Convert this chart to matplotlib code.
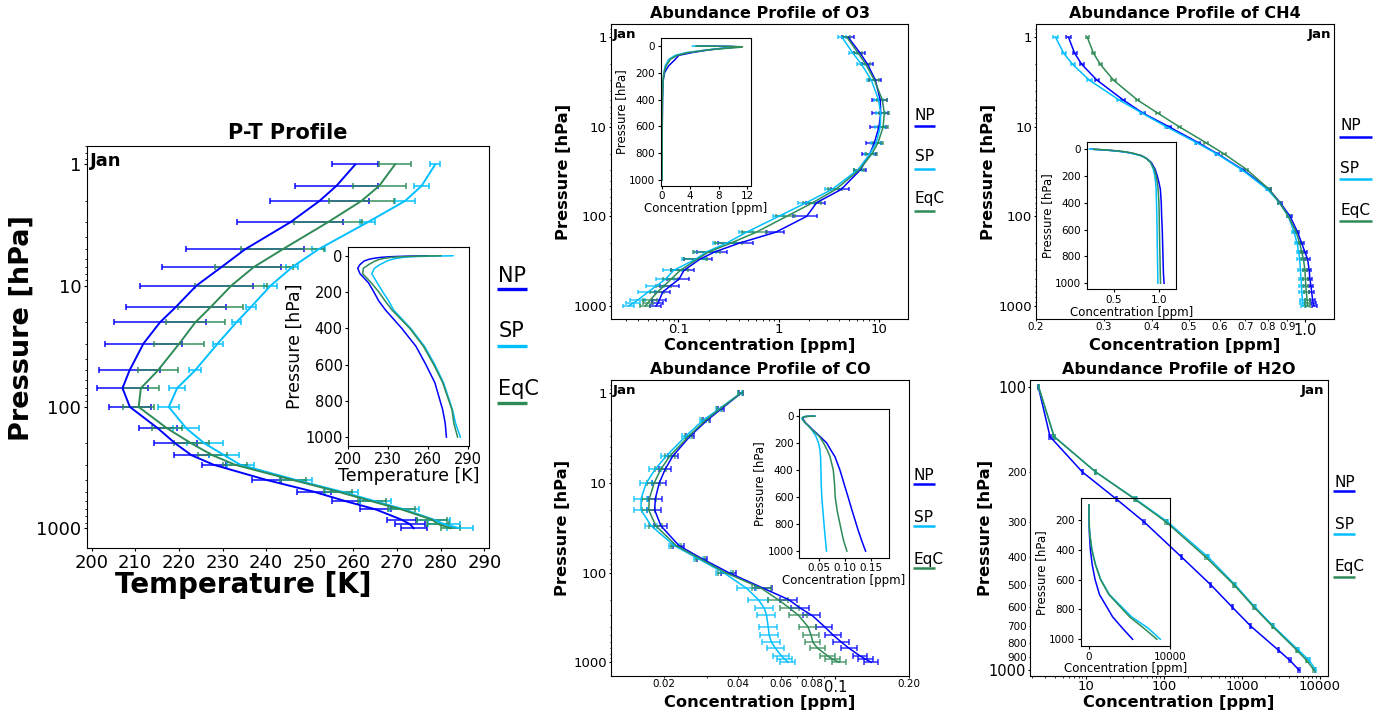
import numpy as np
import matplotlib
matplotlib.use('Agg')
import matplotlib.pyplot as plt
from matplotlib.lines import Line2D
from matplotlib.ticker import FixedLocator, FuncFormatter, NullFormatter, LogLocator

# ---------------- data ----------------
labels = ['NP', 'SP', 'EqC']
colors = ['blue', 'deepskyblue', 'seagreen']

levels = [1, 1.5, 2, 3, 5, 7, 10, 15, 20, 30, 50, 70, 100, 150, 200, 250, 300,
          400, 500, 600, 700, 850, 925, 1000]
h2o_levels = [100, 150, 200, 250, 300, 400, 500, 600, 700, 850, 925, 1000]

# Temperature [K]
t_np = [260.4, 256.1, 252.2, 245.5, 235.2, 229.8, 224.0, 219.3, 215.7, 211.9, 208.7, 207.1,
        208.8, 215.2, 219.2, 222.9, 228.0, 240.1, 250.9, 258.3, 265.1, 271.0, 272.9, 273.8]
t_np_err = [5.3, 9.4, 11.3, 12.2, 13.5, 13.6, 12.9, 11.5, 10.5, 8.8, 6.9, 5.9,
            4.8, 4.3, 4.9, 4.0, 2.7, 3.4, 3.9, 3.2, 3.6, 3.4, 3.4, 3.0]
t_sp = [278.7, 275.6, 271.8, 263.2, 252.0, 246.0, 241.0, 236.5, 233.2, 228.9, 223.7, 219.6,
        217.7, 221.7, 225.9, 230.4, 234.1, 246.8, 257.3, 265.0, 271.6, 278.4, 280.7, 284.3]
t_sp_err = [1.1, 1.8, 2.2, 1.8, 1.5, 1.4, 1.4, 1.1, 1.1, 1.1, 1.3, 1.8,
            2.4, 3.0, 4.1, 3.4, 3.1, 3.7, 3.8, 3.5, 3.4, 3.8, 3.6, 3.0]
t_eq = [269.5, 265.9, 261.8, 254.1, 243.8, 237.2, 232.0, 227.3, 223.8, 220.1, 215.2, 211.3,
        210.8, 217.3, 222.9, 227.7, 232.9, 246.1, 256.5, 264.2, 271.0, 278.0, 279.4, 282.2]
t_eq_err = [3.6, 6.1, 7.4, 7.8, 9.5, 8.9, 8.2, 7.4, 6.8, 5.7, 4.6, 4.2,
            3.5, 3.4, 4.0, 3.4, 2.7, 3.0, 3.2, 3.2, 3.0, 3.4, 2.5, 2.2]

# O3 [ppm]
o3_np = [4.95, 6.5, 7.7, 9.2, 10.3, 10.4, 10.0, 9.0, 8.1, 6.55, 4.2, 2.4,
         1.9, 0.94, 0.40, 0.23, 0.165, 0.114, 0.102, 0.083, 0.070, 0.065, 0.063, 0.060]
o3_np_err = [0.64, 0.82, 1.0, 1.2, 1.8, 1.9, 1.8, 1.5, 1.3, 0.92, 0.84, 0.53,
             0.5, 0.19, 0.15, 0.075, 0.05, 0.029, 0.025, 0.018, 0.012, 0.010, 0.008, 0.008]
o3_sp = [4.3, 5.5, 6.7, 8.4, 9.9, 10.4, 10.3, 9.4, 8.1, 6.2, 3.4, 1.9,
         1.0, 0.48, 0.30, 0.19, 0.15, 0.09, 0.075, 0.06, 0.05, 0.04, 0.036, 0.032]
o3_sp_err = [0.4, 0.5, 0.6, 0.8, 1.0, 1.1, 1.1, 1.0, 0.9, 0.6, 0.5, 0.35,
             0.12, 0.08, 0.08, 0.045, 0.04, 0.02, 0.015, 0.012, 0.01, 0.007, 0.006, 0.004]
o3_eq = [4.8, 6.2, 7.4, 9.0, 10.8, 11.3, 11.0, 9.8, 8.5, 6.4, 3.7, 2.2,
         1.2, 0.6, 0.33, 0.2, 0.155, 0.105, 0.085, 0.072, 0.062, 0.053, 0.05, 0.047]
o3_eq_err = [0.4, 0.6, 0.8, 1.0, 1.2, 1.3, 1.2, 1.1, 1.0, 0.7, 0.6, 0.45,
             0.25, 0.17, 0.1, 0.06, 0.04, 0.02, 0.015, 0.012, 0.01, 0.008, 0.006, 0.005]

# CH4 [ppm]
ch4_np = [0.243, 0.252, 0.263, 0.288, 0.337, 0.379, 0.444, 0.528, 0.593, 0.689, 0.806, 0.862,
          0.915, 0.957, 0.981, 1.000, 1.016, 1.026, 1.030, 1.037, 1.041, 1.047, 1.050, 1.057]
ch4_sp = [0.225, 0.236, 0.249, 0.275, 0.329, 0.377, 0.437, 0.523, 0.590, 0.685, 0.799, 0.858,
          0.906, 0.937, 0.954, 0.963, 0.969, 0.973, 0.977, 0.979, 0.981, 0.985, 0.987, 0.989]
ch4_eq = [0.272, 0.282, 0.294, 0.318, 0.367, 0.414, 0.472, 0.553, 0.616, 0.706, 0.808, 0.858,
          0.906, 0.949, 0.969, 0.981, 0.991, 1.000, 1.003, 1.005, 1.008, 1.013, 1.015, 1.018]
ch4_np_err = [0.003, 0.003, 0.003, 0.004, 0.004, 0.005, 0.005, 0.006, 0.006, 0.007, 0.008, 0.009,
              0.010, 0.011, 0.012, 0.013, 0.013, 0.014, 0.014, 0.015, 0.015, 0.016, 0.016, 0.016]
ch4_sp_err = [0.003, 0.003, 0.003, 0.004, 0.004, 0.005, 0.005, 0.006, 0.006, 0.007, 0.008, 0.009,
              0.010, 0.011, 0.012, 0.012, 0.013, 0.013, 0.013, 0.014, 0.014, 0.014, 0.015, 0.015]
ch4_eq_err = [0.003, 0.003, 0.003, 0.004, 0.004, 0.005, 0.005, 0.006, 0.006, 0.007, 0.008, 0.009,
              0.010, 0.011, 0.012, 0.012, 0.013, 0.013, 0.013, 0.014, 0.014, 0.015, 0.015, 0.015]

# CO [ppm]
co_np = [0.0411, 0.0341, 0.0299, 0.0255, 0.0217, 0.0202, 0.0191, 0.0184, 0.0183, 0.0194, 0.0230, 0.0286,
         0.0367, 0.0510, 0.0645, 0.0721, 0.0804, 0.0903, 0.0982, 0.1062, 0.1140, 0.1262, 0.1330, 0.1403]
co_np_err = [0.0008, 0.0009, 0.0010, 0.0010, 0.0010, 0.0011, 0.0012, 0.0012, 0.0012, 0.0012, 0.0012, 0.0013,
             0.0025, 0.0040, 0.0050, 0.0060, 0.0065, 0.0070, 0.0075, 0.0080, 0.0085, 0.0085, 0.0090, 0.0095]
co_sp = [0.0409, 0.0334, 0.0288, 0.0245, 0.0204, 0.0184, 0.0169, 0.0161, 0.0161, 0.0177, 0.0220, 0.0276,
         0.0350, 0.0435, 0.0485, 0.0513, 0.0524, 0.0532, 0.0537, 0.0549, 0.0570, 0.0603, 0.0622, 0.0641]
co_sp_err = [0.0008, 0.0008, 0.0009, 0.0009, 0.0009, 0.0010, 0.0010, 0.0010, 0.0010, 0.0010, 0.0011, 0.0012,
             0.0025, 0.0040, 0.0045, 0.0045, 0.0045, 0.0045, 0.0045, 0.0045, 0.0045, 0.0045, 0.0045, 0.0045]
co_eq = [0.0410, 0.0337, 0.0295, 0.0252, 0.0211, 0.0194, 0.0182, 0.0174, 0.0173, 0.0185, 0.0224, 0.0281,
         0.0356, 0.0500, 0.0584, 0.0652, 0.0708, 0.0773, 0.0797, 0.0810, 0.0848, 0.0931, 0.0976, 0.1038]
co_eq_err = [0.0008, 0.0008, 0.0009, 0.0009, 0.0010, 0.0010, 0.0011, 0.0011, 0.0011, 0.0011, 0.0011, 0.0012,
             0.0025, 0.0045, 0.0055, 0.0060, 0.0060, 0.0060, 0.0060, 0.0060, 0.0060, 0.0065, 0.0065, 0.0070]

# H2O [ppm]
h2o_np = [2.44, 3.45, 8.97, 24.8, 55.5, 169, 397, 751, 1294, 2918, 4121, 5380]
h2o_np_err = [0.05, 0.08, 0.2, 0.5, 1.2, 3, 8, 15, 25, 60, 80, 100]
h2o_sp = [2.46, 3.89, 13.3, 43.8, 111, 370, 813, 1468, 2520, 5270, 7290, 8810]
h2o_sp_err = [0.05, 0.08, 0.3, 0.8, 2.5, 7, 15, 30, 50, 110, 150, 180]
h2o_eq = [2.46, 3.89, 13.3, 42.6, 106, 345, 789, 1426, 2445, 5025, 6750, 8380]
h2o_eq_err = [0.05, 0.08, 0.3, 0.8, 2.5, 7, 15, 30, 50, 110, 150, 180]

# ---------------- figure ----------------
W, H = 1386, 715
fig = plt.figure(figsize=(W / 100, H / 100), dpi=100)


def rect(l, t, r, b):
    return [l / W, 1 - b / H, (r - l) / W, (b - t) / H]


def fx(x):
    return x / W


def fy(y):
    return 1 - y / H


def profiles(ax, series, levs, lw, elw, cap):
    for (vals, errs), col in zip(series, colors):
        ax.plot(vals, levs, color=col, lw=lw, zorder=3)
        ax.errorbar(vals, levs, xerr=errs, fmt='none', ecolor=col, elinewidth=elw,
                    capsize=cap, capthick=elw, alpha=0.75, zorder=2)


def inset_lines(ax, series, levs, lw=1.1):
    for vals, col in zip(series, colors):
        ax.plot(vals, levs, color=col, lw=lw)


def side_legend(x0, x1, ytexts, ylines, fs, lw):
    for lab, col, yt, yl in zip(labels, colors, ytexts, ylines):
        fig.text(fx(x0 + 1.5), fy(yt), lab, fontsize=fs, ha='left', va='baseline')
        fig.add_artist(Line2D([fx(x0), fx(x1)], [fy(yl), fy(yl)], color=col, lw=lw,
                              transform=fig.transFigure, solid_capstyle='butt'))


def gfmt(v, p):
    return '%g' % v


def only(vals, fmt):
    def f(v, p):
        for t in vals:
            if abs(v - t) < 1e-9 * max(1.0, abs(t)):
                return fmt % v
        return ''
    return FuncFormatter(f)


def log_y(ax, ylim, size):
    ax.set_yscale('log')
    ax.set_ylim(*ylim)
    ax.yaxis.set_major_locator(FixedLocator([1, 10, 100, 1000]))
    ax.yaxis.set_major_formatter(FuncFormatter(gfmt))
    ax.yaxis.set_minor_formatter(NullFormatter())
    ax.tick_params(axis='y', which='major', labelsize=size)


def main_ticks(ax, length=1.8, pad=1.0):
    ax.tick_params(which='major', length=length, pad=pad)
    ax.tick_params(which='minor', length=length * 0.6, pad=pad)


def place_labels(ax, xl, yl, xsize, ysize, xpos, ypos):
    ax.set_xlabel(xl, fontsize=xsize, fontweight='bold')
    ax.set_ylabel(yl, fontsize=ysize, fontweight='bold')
    ax.xaxis.set_label_coords(*xpos)
    ax.xaxis.label.set_va('center')
    ax.yaxis.set_label_coords(*ypos)
    ax.yaxis.label.set_va('center')


def inset_style(ax, tick, lab, ylim):
    ax.patch.set_alpha(0)
    ax.set_ylim(*ylim)
    ax.tick_params(labelsize=tick, length=2.5, pad=1.5)
    ax.set_xlabel('Concentration [ppm]', fontsize=lab, labelpad=0.5)
    ax.set_ylabel('Pressure [hPa]', fontsize=lab, labelpad=1)


YLIM = (1413, 0.708)
RT, RL, RK, RM = 11.5, 11.7, 9.5, 7.5  # title, label, major tick, minor tick sizes

# ---------------- P-T profile ----------------
ax = fig.add_axes(rect(86.7, 145.7, 489.3, 548))
profiles(ax, [(t_np, t_np_err), (t_sp, t_sp_err), (t_eq, t_eq_err)], levels, 1.4, 1.4, 2.3)
log_y(ax, (1456, 0.70), 13)
ax.set_xlim(198.9, 291.1)
ax.set_xticks(np.arange(200, 291, 10))
ax.tick_params(axis='x', labelsize=13)
main_ticks(ax, 2.4, 1.6)
ax.set_title('P-T Profile', fontsize=15, fontweight='bold', pad=5)
place_labels(ax, 'Temperature [K]', 'Pressure [hPa]', 20, 19.5, (0.388, -0.093), (-0.161, 0.548))
ax.text(0.008, 0.985, 'Jan', transform=ax.transAxes, fontsize=13, fontweight='bold',
        ha='left', va='top')
side_legend(496.7, 526.5, [282, 337, 395], [289, 346.3, 403.3], 15, 2.4)

ai = fig.add_axes(rect(348.3, 246.7, 469.3, 446))
inset_lines(ai, [t_np, t_sp, t_eq], levels)
ai.set_xlim(200, 291)
ai.set_xticks([200, 230, 260, 290])
inset_style(ai, 10.5, 12.5, (1049, -49))
ai.set_xlabel('Temperature [K]', fontsize=12.5, labelpad=0.5)

# ---------------- O3 ----------------
ax = fig.add_axes(rect(610.7, 24, 908.3, 319.3))
profiles(ax, [(o3_np, o3_np_err), (o3_sp, o3_sp_err), (o3_eq, o3_eq_err)], levels, 1.1, 1.2, 1.6)
ax.set_xscale('log')
ax.set_xlim(0.0212, 19.6)
ax.xaxis.set_major_locator(FixedLocator([0.1, 1, 10]))
ax.xaxis.set_major_formatter(FuncFormatter(gfmt))
ax.xaxis.set_minor_formatter(NullFormatter())
ax.tick_params(axis='x', which='major', labelsize=RK)
log_y(ax, YLIM, RK)
main_ticks(ax)
ax.set_title('Abundance Profile of O3', fontsize=RT, fontweight='bold', pad=4)
place_labels(ax, 'Concentration [ppm]', 'Pressure [hPa]', RL, RL, (0.5, -0.089), (-0.160, 0.5))
ax.text(0.008, 0.985, 'Jan', transform=ax.transAxes, fontsize=9.6, fontweight='bold',
        ha='left', va='top')
side_legend(913.5, 935, [120, 161, 203], [126, 169.3, 210.7], 11, 1.8)

ai = fig.add_axes(rect(660.7, 38.3, 750.7, 185.7))
inset_lines(ai, [o3_np, o3_sp, o3_eq], levels)
ai.set_xlim(-0.14, 12.47)
ai.set_xticks([0, 4, 8, 12])
inset_style(ai, 7.5, 8.5, (1042, -57))

# ---------------- CH4 ----------------
ax = fig.add_axes(rect(1036, 24, 1334, 319.3))
profiles(ax, [(ch4_np, ch4_np_err), (ch4_sp, ch4_sp_err), (ch4_eq, ch4_eq_err)], levels, 1.1, 1.2, 1.6)
ax.set_xscale('log')
ax.set_xlim(0.2, 1.19)
ax.xaxis.set_major_locator(FixedLocator([1.0]))
ax.xaxis.set_major_formatter(FuncFormatter(lambda v, p: '%.1f' % v))
ax.xaxis.set_minor_locator(LogLocator(base=10, subs=np.arange(2, 10)))
ax.xaxis.set_minor_formatter(only([0.2, 0.3, 0.4, 0.5, 0.6, 0.7, 0.8, 0.9], '%.1f'))
ax.tick_params(axis='x', which='major', labelsize=10.5)
ax.tick_params(axis='x', which='minor', labelsize=RM)
log_y(ax, YLIM, RK)
main_ticks(ax)
ax.set_title('Abundance Profile of CH4', fontsize=RT, fontweight='bold', pad=4)
place_labels(ax, 'Concentration [ppm]', 'Pressure [hPa]', RL, RL, (0.5, -0.089), (-0.161, 0.5))
ax.text(0.99, 0.985, 'Jan', transform=ax.transAxes, fontsize=9.6, fontweight='bold',
        ha='right', va='top')
side_legend(1338.5, 1372, [130, 173, 215], [136.7, 179.3, 220.7], 11, 1.8)

ai = fig.add_axes(rect(1086.7, 142, 1176, 289.3))
inset_lines(ai, [ch4_np, ch4_sp, ch4_eq], levels)
ai.set_xlim(0.196, 1.19)
ai.set_xticks([0.5, 1.0])
ai.xaxis.set_major_formatter(FuncFormatter(lambda v, p: '%.1f' % v))
inset_style(ai, 7.5, 8.5, (1045, -52))

# ---------------- CO ----------------
ax = fig.add_axes(rect(610.7, 380, 909, 675.7))
profiles(ax, [(co_np, co_np_err), (co_sp, co_sp_err), (co_eq, co_eq_err)], levels, 1.1, 1.2, 2.2)
ax.set_xscale('log')
ax.set_xlim(0.0121, 0.2)
ax.xaxis.set_major_locator(FixedLocator([0.1]))
ax.xaxis.set_major_formatter(FuncFormatter(gfmt))
ax.xaxis.set_minor_locator(LogLocator(base=10, subs=np.arange(2, 10)))
ax.xaxis.set_minor_formatter(only([0.02, 0.04, 0.06, 0.08, 0.2], '%.2f'))
ax.tick_params(axis='x', which='major', labelsize=10.5)
ax.tick_params(axis='x', which='minor', labelsize=RM)
log_y(ax, YLIM, RK)
main_ticks(ax)
ax.set_title('Abundance Profile of CO', fontsize=RT, fontweight='bold', pad=4)
place_labels(ax, 'Concentration [ppm]', 'Pressure [hPa]', RL, RL, (0.5, -0.090), (-0.163, 0.5))
ax.text(0.008, 0.985, 'Jan', transform=ax.transAxes, fontsize=9.6, fontweight='bold',
        ha='left', va='top')
side_legend(912.5, 935, [480, 522, 564], [484, 526, 568], 11, 1.8)

ai = fig.add_axes(rect(799, 409, 889, 557.7))
inset_lines(ai, [co_np, co_sp, co_eq], levels)
ai.set_xlim(0.0104, 0.186)
ai.set_xticks([0.05, 0.10, 0.15])
ai.xaxis.set_major_formatter(FuncFormatter(lambda v, p: '%.2f' % v))
inset_style(ai, 7.5, 8.5, (1049, -52))

# ---------------- H2O ----------------
ax = fig.add_axes(rect(1030, 380, 1327.7, 675.7))
profiles(ax, [(h2o_np, h2o_np_err), (h2o_sp, h2o_sp_err), (h2o_eq, h2o_eq_err)], h2o_levels, 1.1, 1.2, 2.0)
ax.set_xscale('log')
ax.set_xlim(1.91, 12560)
ax.xaxis.set_major_locator(FixedLocator([10, 100, 1000, 10000]))
ax.xaxis.set_major_formatter(FuncFormatter(gfmt))
ax.xaxis.set_minor_formatter(NullFormatter())
ax.tick_params(axis='x', which='major', labelsize=RK)
ax.set_yscale('log')
ax.set_ylim(1047, 94.7)
ax.yaxis.set_major_locator(FixedLocator([100, 1000]))
ax.yaxis.set_major_formatter(FuncFormatter(gfmt))
ax.yaxis.set_minor_locator(LogLocator(base=10, subs=np.arange(2, 10)))
ax.yaxis.set_minor_formatter(only([200, 300, 400, 500, 600, 700, 800, 900], '%g'))
ax.tick_params(axis='y', which='major', labelsize=10.5)
ax.tick_params(axis='y', which='minor', labelsize=RM)
main_ticks(ax)
ax.set_title('Abundance Profile of H2O', fontsize=RT, fontweight='bold', pad=4)
place_labels(ax, 'Concentration [ppm]', 'Pressure [hPa]', RL, RL, (0.5, -0.090), (-0.151, 0.5))
ax.text(0.99, 0.985, 'Jan', transform=ax.transAxes, fontsize=9.6, fontweight='bold',
        ha='right', va='top')
side_legend(1333, 1355, [487, 529, 571], [491, 534, 577], 11, 1.8)

ai = fig.add_axes(rect(1080.7, 498.3, 1170, 646))
inset_lines(ai, [h2o_np, h2o_sp, h2o_eq], h2o_levels)
ai.set_xlim(-1025, 10000)
ai.set_xticks([0, 10000])
inset_style(ai, 7.5, 8.5, (1045, 55))

fig.savefig('out.png', dpi=100)
